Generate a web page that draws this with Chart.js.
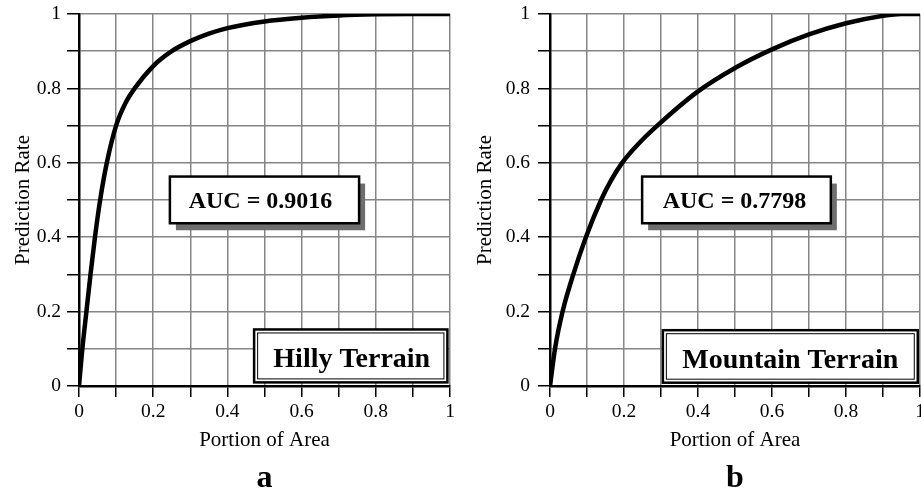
<!DOCTYPE html>
<html><head><meta charset="utf-8">
<script src="https://cdn.jsdelivr.net/npm/chart.js@4/dist/chart.umd.min.js"></script>
<style>
html,body{margin:0;padding:0;background:#fff;width:921px;height:496px;overflow:hidden}
#wa{position:absolute;left:0;top:0;width:460px;height:496px}
#wb{position:absolute;left:460px;top:0;width:461px;height:496px}
</style></head><body>
<div id="wa"><canvas id="ca" width="460" height="496"></canvas></div>
<div id="wb"><canvas id="cb" width="461" height="496"></canvas></div>
<script>
// ---- data ----
const hillyX = [0, 0.009, 0.020, 0.031, 0.043, 0.057, 0.075, 0.100, 0.125, 0.150, 0.200, 0.250, 0.300, 0.350, 0.400, 0.500, 0.600, 0.700, 0.800, 0.900, 1.000];
const hillyY = [0, 0.100, 0.200, 0.300, 0.400, 0.500, 0.600, 0.700, 0.760, 0.800, 0.860, 0.900, 0.927, 0.947, 0.962, 0.980, 0.990, 0.996, 0.999, 1.000, 1.000];
const mountX = [0, 0.0135, 0.034, 0.063, 0.097, 0.138, 0.165, 0.195, 0.240, 0.290, 0.400, 0.500, 0.600, 0.700, 0.800, 0.900, 0.950, 1.000];
const mountY = [0, 0.100, 0.200, 0.300, 0.400, 0.500, 0.553, 0.600, 0.652, 0.700, 0.792, 0.855, 0.905, 0.945, 0.975, 0.995, 1.000, 1.000];
const tickValues = [0, 0.2, 0.4, 0.6, 0.8, 1];
const tickLabels = ['0', '0.2', '0.4', '0.6', '0.8', '1'];
const panelLetters = ['a', 'b'];
const aucLabels = ['AUC = 0.9016', 'AUC = 0.7798'];
const terrainLabels = ['Hilly Terrain', 'Mountain Terrain'];
const xTitle = 'Portion of Area';
const yTitle = 'Prediction Rate';

const SERIF = '"Liberation Serif", "Times New Roman", Times, serif';

function tickCb(v) {
  const i = tickValues.findIndex(t => Math.abs(t - v) < 1e-6);
  return i >= 0 ? tickLabels[i] : '';
}

const boxPlugin = {
  id: 'boxes',
  afterDatasetsDraw(chart, args, opts) {
    const ctx = chart.ctx, sx = chart.scales.x, sy = chart.scales.y;
    (opts.items || []).forEach(b => {
      const l = sx.getPixelForValue(b.x0), r = sx.getPixelForValue(b.x1);
      const t = sy.getPixelForValue(b.y1), bt = sy.getPixelForValue(b.y0);
      ctx.save();
      if (b.shadow) {
        ctx.fillStyle = '#6e6e6e';
        ctx.fillRect(l + b.shadow[0], t + b.shadow[1], r - l, bt - t);
      }
      ctx.fillStyle = '#fff';
      ctx.fillRect(l, t, r - l, bt - t);
      ctx.strokeStyle = '#000';
      ctx.lineWidth = b.lw;
      ctx.strokeRect(l, t, r - l, bt - t);
      if (b.double) {
        ctx.lineWidth = 1;
        ctx.strokeRect(l + 3.5, t + 3.5, r - l - 7, bt - t - 7);
      }
      ctx.fillStyle = '#000';
      ctx.font = 'bold ' + b.size + 'px ' + SERIF;
      ctx.textAlign = 'center';
      ctx.textBaseline = 'alphabetic';
      ctx.fillText(b.text, (l + r) / 2 + b.dx, (t + bt) / 2 + b.dy + 0.662 * b.size / 2);
      ctx.restore();
    });
  }
};

function makeChart(id, xs, ys, opt) {
  return new Chart(document.getElementById(id), {
    type: 'line',
    data: {
      datasets: [{
        data: xs.map((x, i) => ({ x: x, y: ys[i] })),
        borderColor: '#000', borderWidth: 4.5, pointRadius: 0,
        cubicInterpolationMode: 'monotone', fill: false
      }]
    },
    options: {
      responsive: false, animation: false, devicePixelRatio: 1,
      layout: { padding: { left: 0, right: opt.padRight, top: 14, bottom: 0 } },
      scales: {
        x: {
          type: 'linear', min: 0, max: 1,
          ticks: { stepSize: 0.1, autoSkip: false, maxRotation: 0, padding: 3, color: '#000',
                   font: { family: SERIF, size: 19.5 }, callback: tickCb },
          grid: { color: '#858585', lineWidth: 1.5, tickLength: 11, tickColor: '#000', tickWidth: 1.5 },
          border: { color: '#000', width: 2.5 },
          title: { display: true, text: xTitle, color: '#000', font: { family: SERIF, size: 21, lineHeight: 1 },
                   padding: { top: 0, bottom: 5.5 } },
          afterFit(s) { s.height = 70; s.paddingLeft = 0; s.paddingRight = 0; }
        },
        y: {
          type: 'linear', min: 0, max: 1,
          ticks: { stepSize: 0.1, autoSkip: false, padding: opt.yPad, color: '#000',
                   font: { family: SERIF, size: 19.5 }, callback: tickCb },
          grid: { color: '#858585', lineWidth: 1.5, tickLength: 12, tickColor: '#000', tickWidth: 1.5 },
          border: { color: '#000', width: 2.5 },
          title: { display: true, text: yTitle, color: '#000', font: { family: SERIF, size: 21, lineHeight: 1 },
                   padding: { top: opt.yTitlePad, bottom: 0 } },
          afterFit(s) { s.width = opt.yWidth; s.paddingTop = 0; s.paddingBottom = 0; }
        }
      },
      plugins: {
        legend: { display: false },
        tooltip: { enabled: false },
        title: { display: true, text: opt.letter, position: 'bottom', fullSize: false, color: '#000',
                 font: { family: SERIF, size: 32, weight: 'bold', lineHeight: 1 },
                 padding: { top: 7, bottom: 1 } },
        boxes: { items: opt.boxes }
      }
    },
    plugins: [boxPlugin]
  });
}

makeChart('ca', hillyX, hillyY, {
  padRight: 10, yWidth: 79, yPad: 6, yTitlePad: 12.5, letter: panelLetters[0],
  boxes: [
    { x0: 0.245, x1: 0.755, y0: 0.4375, y1: 0.563, text: aucLabels[0], size: 24, lw: 2.5, shadow: [6, 7], dx: -4, dy: 0 },
    { x0: 0.472, x1: 0.993, y0: 0.0097, y1: 0.152, text: terrainLabels[0], size: 28, lw: 2.5, double: true, dx: 1, dy: 2 }
  ]
});
makeChart('cb', mountX, mountY, {
  padRight: 1, yWidth: 90, yPad: 8, yTitlePad: 14.5, letter: panelLetters[1],
  boxes: [
    { x0: 0.249, x1: 0.759, y0: 0.4375, y1: 0.563, text: aucLabels[1], size: 24, lw: 2.5, shadow: [6, 7], dx: -2, dy: 0 },
    { x0: 0.305, x1: 0.994, y0: 0.0089, y1: 0.150, text: terrainLabels[1], size: 28, lw: 2.5, double: true, dx: 0, dy: 2 }
  ]
});
</script>
</body></html>
